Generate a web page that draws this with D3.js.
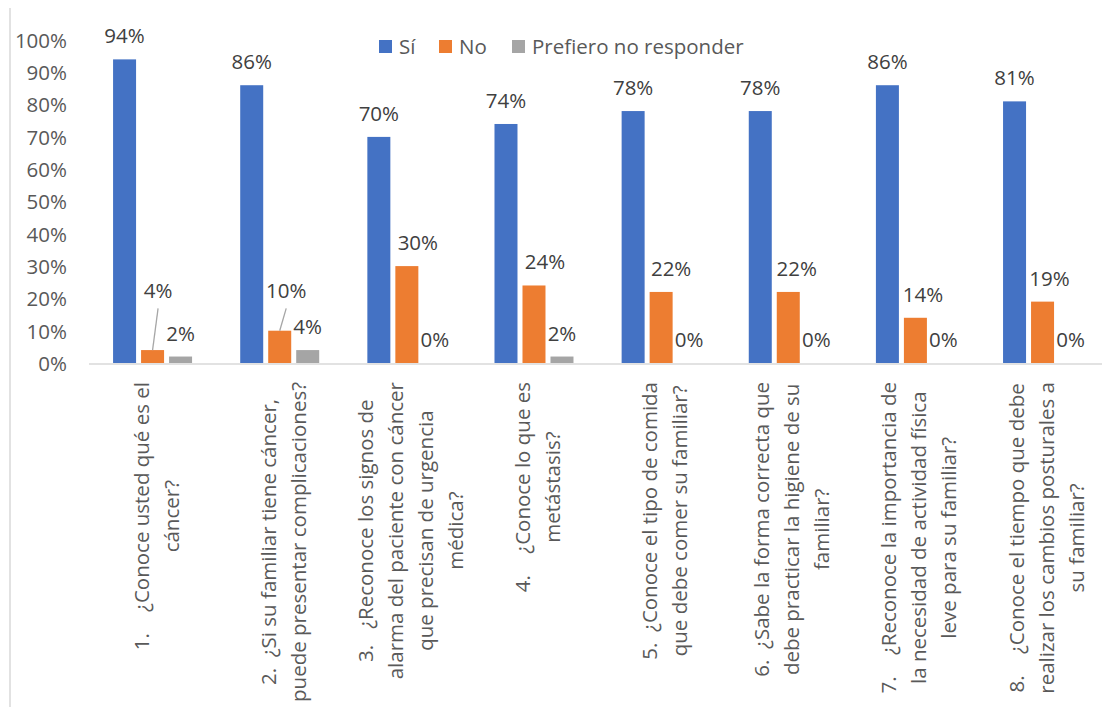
<!DOCTYPE html>
<html>
<head>
<meta charset="utf-8">
<script src="https://cdn.jsdelivr.net/npm/d3@7"></script>
<style>
  html, body { margin: 0; padding: 0; background: #fff; }
  svg { display: block; font-family: "Open Sans", sans-serif; }
  text { white-space: pre; }
</style>
</head>
<body>
<svg id="chart" width="1102" height="707"></svg>
<script>
// Survey questions (wrapped as they appear under the axis)
const categories = [
  ["1.\u00A0\u00A0\u00A0\u00A0¿Conoce usted qué es el", "cáncer?"],
  ["2.\u00A0\u00A0¿Si su familiar tiene cáncer,", "puede presentar complicaciones?"],
  ["3.\u00A0\u00A0\u00A0¿Reconoce los signos de", "alarma del paciente con cáncer", "que precisan de urgencia", "médica?"],
  ["4.\u00A0\u00A0\u00A0\u00A0¿Conoce lo que es", "metástasis?"],
  ["5.\u00A0\u00A0¿Conoce el tipo de comida", "que debe comer su familiar?"],
  ["6.\u00A0\u00A0¿Sabe la forma correcta que", "debe practicar la higiene de su", "familiar?"],
  ["7.\u00A0\u00A0\u00A0\u00A0¿Reconoce la importancia de", "la necesidad de actividad física", "leve para su familiar?"],
  ["8.\u00A0\u00A0\u00A0\u00A0¿Conoce el tiempo que debe", "realizar los cambios posturales a", "su familiar?"]
];
const seriesNames = ["Sí", "No", "Prefiero no responder"];
const si        = [0.94, 0.86, 0.70, 0.74, 0.78, 0.78, 0.86, 0.81];
const no        = [0.04, 0.10, 0.30, 0.24, 0.22, 0.22, 0.14, 0.19];
const prefiero  = [0.02, 0.04, 0.00, 0.02, 0.00, 0.00, 0.00, 0.00];
const yTicks    = [0, 0.1, 0.2, 0.3, 0.4, 0.5, 0.6, 0.7, 0.8, 0.9, 1.0];

const colors = ["#4472C4", "#ED7D31", "#A5A5A5"];
const values = [si, no, prefiero];

const svg = d3.select("#chart");
const FONT = 20.5;

// scales
const idx = d3.range(categories.length);
const x = d3.scaleBand().domain(idx).range([89, 89 + 8 * 127.14]).padding(0);
const inner = d3.scaleBand().domain(d3.range(3)).range([-39.5, 39.5])
  .paddingInner(5 / 28).paddingOuter(0);
const y = d3.scaleLinear().domain([0, 1]).range([363, 40]);
const cx = i => x(i) + x.bandwidth() / 2;

// chart border (left edge)
svg.append("line")
  .attr("x1", 10).attr("x2", 10).attr("y1", 8).attr("y2", 707)
  .attr("stroke", "#d9d9d9").attr("stroke-width", 1.5);

// y axis labels
const yAxis = d3.axisLeft(y).tickValues(yTicks).tickFormat(d3.format(".0%")).tickSize(0).tickPadding(0);
const gy = svg.append("g").attr("transform", "translate(67,0)").call(yAxis);
gy.select(".domain").remove();
gy.selectAll("text")
  .attr("font-family", "Open Sans").attr("font-size", FONT)
  .attr("fill", "#595959").attr("dy", "0.36em");

// bars
const groups = svg.append("g").selectAll("g").data(values).join("g")
  .attr("fill", (d, s) => colors[s]);
groups.each(function (vals, s) {
  d3.select(this).selectAll("rect").data(vals).join("rect")
    .attr("x", (v, i) => cx(i) + inner(s))
    .attr("width", inner.bandwidth())
    .attr("y", v => y(v))
    .attr("height", v => y(0) - y(v));
});

// category axis line
svg.append("line")
  .attr("x1", 89).attr("x2", 1102).attr("y1", 364).attr("y2", 364)
  .attr("stroke", "#d9d9d9").attr("stroke-width", 1.5);

// data labels; the "No" labels sit a little right of their bars,
// and the two smallest ones are lifted and tied back with a leader line
const noLabelShift = [5.5, 6.5, 11, 11, 10, 8.5, 7.5, 7];
const lifted = new Set(["1-0", "1-1"]);
const labelLayer = svg.append("g");
values.forEach((vals, s) => {
  vals.forEach((v, i) => {
    const bx = cx(i) + inner(s) + inner.bandwidth() / 2;
    const key = s + "-" + i;
    let tx = s === 1 ? bx + noLabelShift[i] : bx;
    let ty = y(v) - 16;
    if (lifted.has(key)) {
      ty = y(0.20);
      labelLayer.append("line")
        .attr("x1", tx).attr("y1", ty + 10)
        .attr("x2", bx).attr("y2", y(v))
        .attr("stroke", "#a6a6a6").attr("stroke-width", 1.3);
    }
    labelLayer.append("text")
      .attr("x", tx).attr("y", ty)
      .attr("text-anchor", "middle")
      .attr("font-size", FONT).attr("fill", "#404040")
      .text(d3.format(".0%")(v));
  });
});

// rotated category labels
const LINE_H = 30;
const catG = svg.append("g");
categories.forEach((lines, i) => {
  const g = catG.append("g");
  const texts = lines.map((ln, k) => g.append("text")
    .attr("font-size", FONT).attr("fill", "#595959")
    .attr("text-anchor", "middle").text(ln));
  const maxLen = d3.max(texts, t => t.node().getComputedTextLength());
  const midY = 382 + maxLen / 2;
  const n = lines.length;
  texts.forEach((t, k) => {
    const bx = cx(i) + 11 + (k - (n - 1) / 2) * LINE_H;
    t.attr("transform", `translate(${bx},${midY}) rotate(-90)`);
  });
});

// legend
const legendX = [379, 439, 512];
const lg = svg.append("g");
seriesNames.forEach((name, s) => {
  lg.append("rect").attr("x", legendX[s]).attr("y", 40)
    .attr("width", 13).attr("height", 13).attr("fill", colors[s]);
  lg.append("text").attr("x", legendX[s] + 20).attr("y", 54)
    .attr("font-size", FONT).attr("fill", "#595959").text(name);
});
</script>
</body>
</html>
